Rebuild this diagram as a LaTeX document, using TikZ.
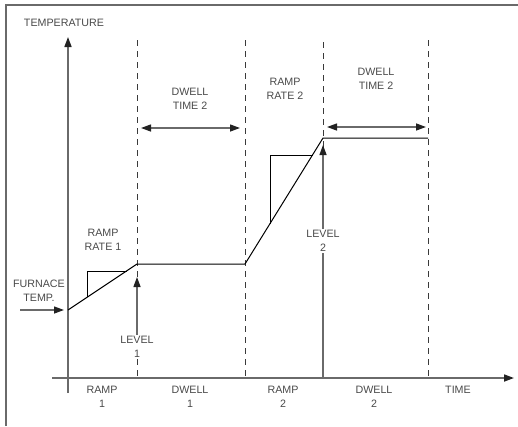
\documentclass[tikz,border=0pt]{standalone}
\usepackage{fontspec}
\setmainfont{Liberation Sans}
\usetikzlibrary{arrows.meta}
\definecolor{axisgray}{HTML}{6A6A6A}
\definecolor{txtgray}{HTML}{4A4A4A}
\definecolor{dashgray}{HTML}{3A3A3A}
\definecolor{tipgray}{HTML}{222222}
\begin{document}
\begin{tikzpicture}[x=1pt,y=-1pt,
  lbl/.style={font=\fontsize{10.7}{14.5}\selectfont, text=txtgray, align=center, inner sep=1pt},
  axisline/.style={draw=axisgray, line width=1.6pt},
  tipstyle/.style={-{Triangle[length=10pt,width=7pt,color=tipgray]}},
  dashline/.style={draw=dashgray, line width=0.9pt, dash pattern=on 6pt off 5pt},
  profile/.style={draw=black, line width=1pt},
  levelarrow/.style={draw=axisgray, line width=1.3pt, -{Triangle[length=10pt,width=7pt,color=tipgray]}},
  dwellarrow/.style={draw=axisgray, line width=1.3pt, {Triangle[length=10pt,width=7pt,color=tipgray]}-{Triangle[length=10pt,width=7pt,color=tipgray]}}
]
\useasboundingbox (0,0) rectangle (518,426);
% frame
\coordinate (fbl) at (6,426);
\coordinate (ftl) at (6,5);
\coordinate (ftr) at (518,5);
\draw[draw=axisgray, line width=1.6pt] (fbl) -- (ftl) -- (ftr);
% dashed guides
\coordinate (d1t) at (137,40); \coordinate (d1b) at (137,378);
\coordinate (d2t) at (245,40); \coordinate (d2b) at (245,378);
\coordinate (d3t) at (323,42); \coordinate (d3b) at (323,378);
\coordinate (d4t) at (428,40); \coordinate (d4b) at (428,378);
\draw[dashline] (d1t) -- (d1b);
\draw[dashline] (d2t) -- (d2b);
\draw[dashline] (d3t) -- (d3b);
\draw[dashline] (d4t) -- (d4b);
% axes
\coordinate (yb) at (68,393); \coordinate (yt) at (68,37);
\coordinate (xl) at (52,378); \coordinate (xr) at (514,378);
\draw[axisline, tipstyle] (yb) -- (yt);
\draw[axisline, tipstyle] (xl) -- (xr);
% profile
\coordinate (p0) at (68,310);
\coordinate (p1) at (137,264);
\coordinate (p2) at (245,264);
\coordinate (p3) at (323,138);
\coordinate (p4) at (428,138);
\draw[profile] (p0) -- (p1) -- (p2) -- (p3) -- (p4);
% ramp rate markers
\coordinate (r1a) at (87,297.3); \coordinate (r1b) at (87,271); \coordinate (r1c) at (126.5,271);
\draw[profile] (r1a) -- (r1b) -- (r1c);
\coordinate (r2a) at (270,223.6); \coordinate (r2b) at (270,155); \coordinate (r2c) at (312.5,155);
\draw[profile] (r2a) -- (r2b) -- (r2c);
% level 1
\node[lbl, fill=white] (lev1) at (137,347) {LEVEL\\1};
\coordinate (lev1tip) at (137,277);
\draw[levelarrow] (lev1.north) -- (lev1tip);
% level 2
\coordinate (lev2base) at (323,378);
\coordinate (lev2tip) at (323,145);
\draw[levelarrow] (lev2base) -- (lev2tip);
\node[lbl, fill=white] (lev2) at (323,241) {LEVEL\\2};
% furnace temp
\node[lbl] (furn) at (39,291) {FURNACE\\TEMP.};
\coordinate (fa) at (20,310); \coordinate (fb) at (64,310);
\draw[draw=axisgray, line width=1.3pt, tipstyle] (fa) -- (fb);
% dwell arrows
\coordinate (dw1a) at (141,128); \coordinate (dw1b) at (240,128);
\draw[dwellarrow] (dw1a) -- (dw1b);
\coordinate (dw2a) at (327,127); \coordinate (dw2b) at (426,127);
\draw[dwellarrow] (dw2a) -- (dw2b);
% labels
\node[lbl] (temp) at (64,23) {TEMPERATURE};
\node[lbl] (dwt1) at (190,99) {DWELL\\TIME 2};
\node[lbl] (rr2) at (285,89) {RAMP\\RATE 2};
\node[lbl] (dwt2) at (376,79) {DWELL\\TIME 2};
\node[lbl] (rr1) at (103,240) {RAMP\\RATE 1};
\node[lbl] (br1) at (102,397) {RAMP\\1};
\node[lbl] (bd1) at (190,397) {DWELL\\1};
\node[lbl] (br2) at (283,397) {RAMP\\2};
\node[lbl] (bd2) at (374,397) {DWELL\\2};
\node[lbl] (time) at (458,390) {TIME};
\end{tikzpicture}
\end{document}
